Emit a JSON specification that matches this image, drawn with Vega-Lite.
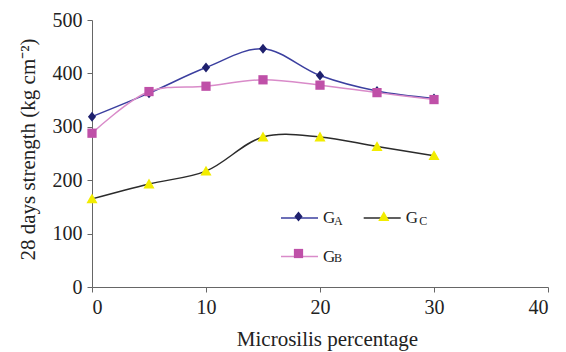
{
  "$schema": "https://vega.github.io/schema/vega-lite/v6.json",
  "autosize": "none",
  "width": 456,
  "height": 267,
  "padding": {"left": 92, "top": 20, "right": 18, "bottom": 65},
  "background": "white",
  "config": {
    "view": {"stroke": null},
    "font": "Liberation Serif",
    "axis": {"grid": false, "labelFont": "Liberation Serif", "titleFont": "Liberation Serif", "labelFontSize": 20, "titleFontSize": 21, "titleFontWeight": "normal", "labelColor": "#222", "titleColor": "#222", "domainColor": "#666", "tickColor": "#666", "tickSize": 5, "labelPadding": 5}
  },
  "data": {"values": [
    {"x": 0, "y": 319, "series": "GA", "sub": "A"},
    {"x": 5, "y": 363, "series": "GA", "sub": "A"},
    {"x": 10, "y": 411, "series": "GA", "sub": "A"},
    {"x": 15, "y": 446, "series": "GA", "sub": "A"},
    {"x": 20, "y": 396, "series": "GA", "sub": "A"},
    {"x": 25, "y": 367, "series": "GA", "sub": "A"},
    {"x": 30, "y": 353, "series": "GA", "sub": "A"},
    {"x": 0, "y": 288, "series": "GB", "sub": "B"},
    {"x": 5, "y": 366, "series": "GB", "sub": "B"},
    {"x": 10, "y": 376, "series": "GB", "sub": "B"},
    {"x": 15, "y": 388, "series": "GB", "sub": "B"},
    {"x": 20, "y": 378, "series": "GB", "sub": "B"},
    {"x": 25, "y": 364, "series": "GB", "sub": "B"},
    {"x": 30, "y": 351, "series": "GB", "sub": "B"},
    {"x": 0, "y": 165, "series": "GC", "sub": "C"},
    {"x": 5, "y": 193, "series": "GC", "sub": "C"},
    {"x": 10, "y": 217, "series": "GC", "sub": "C"},
    {"x": 15, "y": 281, "series": "GC", "sub": "C"},
    {"x": 20, "y": 281, "series": "GC", "sub": "C"},
    {"x": 25, "y": 263, "series": "GC", "sub": "C"},
    {"x": 30, "y": 246, "series": "GC", "sub": "C"}
  ]},
  "encoding": {
    "x": {"field": "x", "type": "quantitative", "scale": {"domain": [0, 40], "nice": false}, "axis": {"values": [0, 10, 20, 30, 40], "title": "Microsilis percentage", "titleFontSize": 21, "titlePadding": 11, "titleX": 235}},
    "y": {"field": "y", "type": "quantitative", "scale": {"domain": [0, 500], "nice": false}, "axis": {"values": [0, 100, 200, 300, 400, 500], "title": "28 days strength (kg cm⁻²)", "titlePadding": 14, "titleY": 129}}
  },
  "layer": [
    {
      "mark": {"type": "line", "interpolate": "catmull-rom", "strokeWidth": 1.5},
      "encoding": {
        "color": {"field": "series", "type": "nominal", "scale": {"domain": ["GA", "GB", "GC"], "range": ["#3B3F9F", "#D98BC9", "#2B2B2B"]},
          "legend": {"orient": "none", "legendX": 188, "legendY": 178, "columns": 2, "columnPadding": 24.7, "rowPadding": -14, "padding": 0, "title": null, "labelExpr": "'G'", "labelFont": "Liberation Serif", "labelFontSize": 17, "labelColor": "#222", "symbolSize": 1369, "symbolType": "M-1,0L1,0M0,-0.84L0,-0.84M0,0.84L0,0.84", "symbolStrokeWidth": 1.5, "labelOffset": 4}}
      }
    },
    {
      "mark": {"type": "point", "filled": true, "size": 1369, "opacity": 1, "strokeWidth": 0},
      "encoding": {
        "fill": {"field": "sub", "type": "nominal", "scale": {"domain": ["A", "B", "C"], "range": ["#1F216E", "#BF50A8", "#F2EC00"]},
          "legend": {"orient": "none", "legendX": 188, "legendY": 178, "columns": 2, "columnPadding": 22.3, "rowPadding": -4, "padding": 0, "title": null, "labelFont": "Liberation Serif", "labelFontSize": 12, "labelColor": "#222", "symbolSize": 1369, "symbolStrokeWidth": 0, "symbolOpacity": 1, "labelOffset": 17, "encode": {"labels": {"update": {"dy": {"value": 4}}}}}},
        "shape": {"field": "sub", "type": "nominal", "scale": {"domain": ["A", "B", "C"], "range": ["M0,-1L0,-1M0,1L0,1M0,-0.27L0.22,0L0,0.27L-0.22,0Z", "M0,-1L0,-1M0,1L0,1M-0.25,-0.25L0.25,-0.25L0.25,0.25L-0.25,0.25Z", "M0,-1L0,-1M0,1L0,1M0,-0.29L0.3,0.24L-0.3,0.24Z"]},
          "legend": {"orient": "none", "legendX": 188, "legendY": 178, "columns": 2, "columnPadding": 22.3, "rowPadding": -4, "padding": 0, "title": null, "labelFont": "Liberation Serif", "labelFontSize": 12, "labelColor": "#222", "symbolSize": 1369, "symbolStrokeWidth": 0, "symbolOpacity": 1, "labelOffset": 17, "encode": {"labels": {"update": {"dy": {"value": 4}}}}}}
      }
    }
  ]
}
